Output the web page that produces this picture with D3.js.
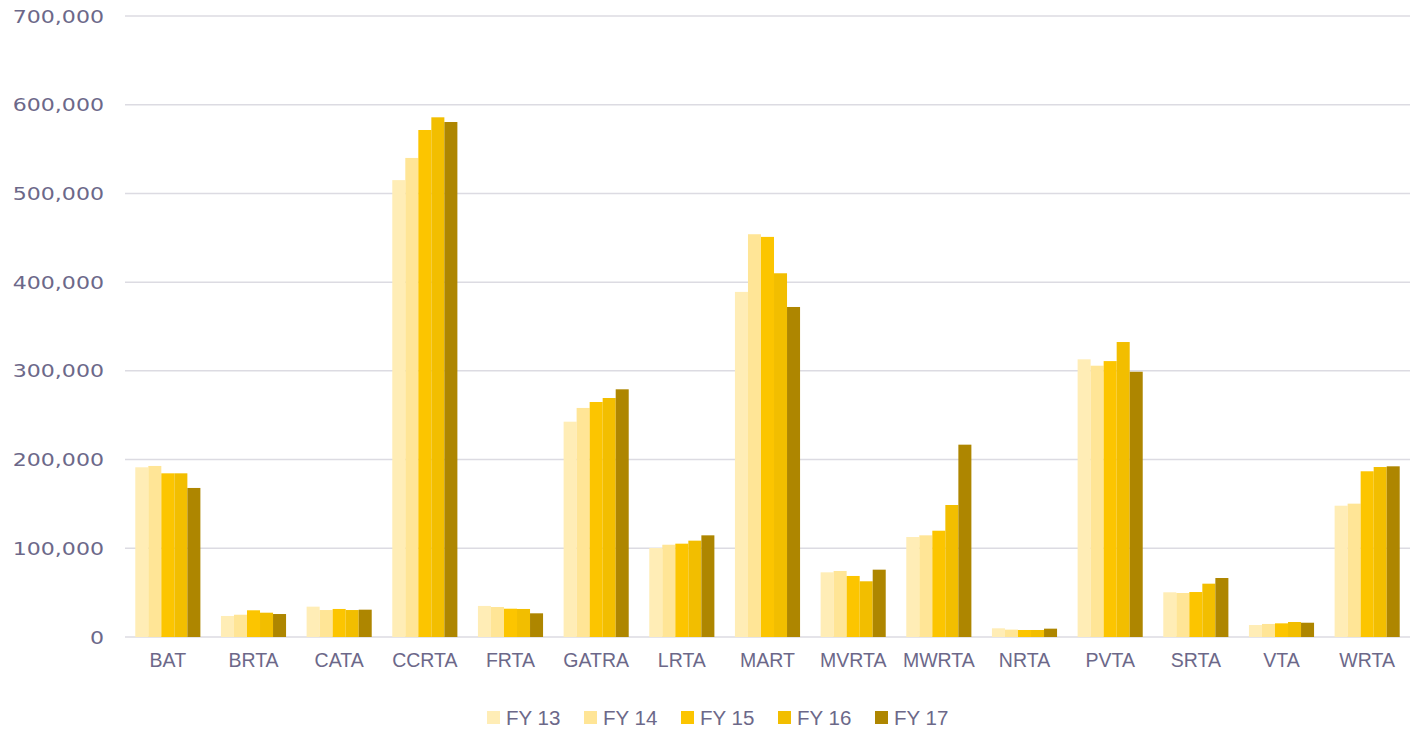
<!DOCTYPE html>
<html>
<head>
<meta charset="utf-8">
<script src="https://cdn.jsdelivr.net/npm/d3@7"></script>
<style>
  body { margin: 0; background: #fff; }
  svg { display: block; font-family: "Liberation Sans", Arial, sans-serif; }
</style>
</head>
<body>
<svg id="chart" width="1414" height="730"></svg>
<script>
const categories = ["BAT","BRTA","CATA","CCRTA","FRTA","GATRA","LRTA","MART","MVRTA","MWRTA","NRTA","PVTA","SRTA","VTA","WRTA"];
const seriesNames = ["FY 13","FY 14","FY 15","FY 16","FY 17"];
const fy13 = [191300, 23700, 34200, 515000, 35000, 242700, 100300, 389000, 72900, 112700, 9800, 313000, 50400, 13500, 148000];
const fy14 = [192800, 25100, 30400, 540000, 33800, 258200, 104000, 454000, 74400, 114600, 8300, 305800, 49600, 14700, 150300];
const fy15 = [184500, 30100, 31600, 571500, 31900, 264900, 105200, 451000, 68800, 119800, 7900, 311000, 50700, 15400, 186800];
const fy16 = [184500, 27400, 30400, 585800, 31600, 269400, 108600, 410000, 62800, 148800, 7900, 332500, 60100, 16900, 191600];
const fy17 = [168000, 25900, 30800, 580500, 26700, 279200, 114600, 372000, 75900, 216800, 9400, 299000, 66500, 16100, 192400];
const yTicks = [0, 100000, 200000, 300000, 400000, 500000, 600000, 700000];
const colors = ["#FFEDB6", "#FFE596", "#FCC500", "#F2BE00", "#AE8600"];

(function () {
const seriesValues = [fy13, fy14, fy15, fy16, fy17];
const data = categories.map((c, i) => ({cat: c, vals: seriesValues.map((s, j) => ({key: seriesNames[j], v: s[i], j}))}));

const svg = d3.select("#chart");
const textColor = "#6C6889";
const pLeft = 125, pRight = 1410, pTop = 16, pBottom = 637;

const x = d3.scaleBand().domain(categories).range([pLeft, pRight]).paddingInner(0.24).paddingOuter(0.12);
const xs = d3.scaleBand().domain(seriesNames).range([0, x.bandwidth()]);
const y = d3.scaleLinear().domain([0, 700000]).range([pBottom, pTop]);

// gridlines
svg.append("g").selectAll("line").data(yTicks).join("line")
  .attr("x1", pLeft).attr("x2", pRight)
  .attr("y1", d => y(d)).attr("y2", d => y(d))
  .attr("stroke", "#DCDBE2").attr("stroke-width", 1.5);

// y axis labels
const yAxis = d3.axisLeft(y).tickValues(yTicks).tickFormat(d3.format(",")).tickSize(0).tickPadding(0);
const yg = svg.append("g").attr("transform", `translate(104,0)`).call(yAxis);
yg.select(".domain").remove();
yg.selectAll("text")
  .attr("fill", textColor)
  .attr("font-size", 17)
  .attr("font-family", "'DejaVu Sans', sans-serif")
  .attr("dy", "0.36em")
  .attr("transform", "scale(1.3,1)");

// bars
svg.append("g").selectAll("g").data(data).join("g")
  .attr("transform", d => `translate(${x(d.cat)},0)`)
  .selectAll("rect").data(d => d.vals).join("rect")
  .attr("x", d => xs(d.key))
  .attr("width", xs.bandwidth())
  .attr("y", d => y(d.v))
  .attr("height", d => pBottom - y(d.v))
  .attr("fill", d => colors[d.j]);

// x axis labels
const xAxis = d3.axisBottom(x).tickSize(0).tickPadding(0);
const xg = svg.append("g").attr("transform", `translate(0,652)`).call(xAxis);
xg.select(".domain").remove();
xg.selectAll("text").attr("fill", textColor).attr("font-size", 19.5).attr("font-family", null).attr("dy", "0.75em");

// legend
const legendX = d3.scalePoint().domain(seriesNames).range([487, 875]);
const lg = svg.append("g").selectAll("g").data(seriesNames).join("g")
  .attr("transform", d => `translate(${legendX(d)},711)`);
lg.append("rect").attr("width", 13).attr("height", 13).attr("fill", (d, i) => colors[i]);
lg.append("text").attr("x", 19).attr("y", 6.5).attr("dy", "0.35em")
  .attr("fill", textColor).attr("font-size", 20.5).text(d => d);
})();
</script>
</body>
</html>
